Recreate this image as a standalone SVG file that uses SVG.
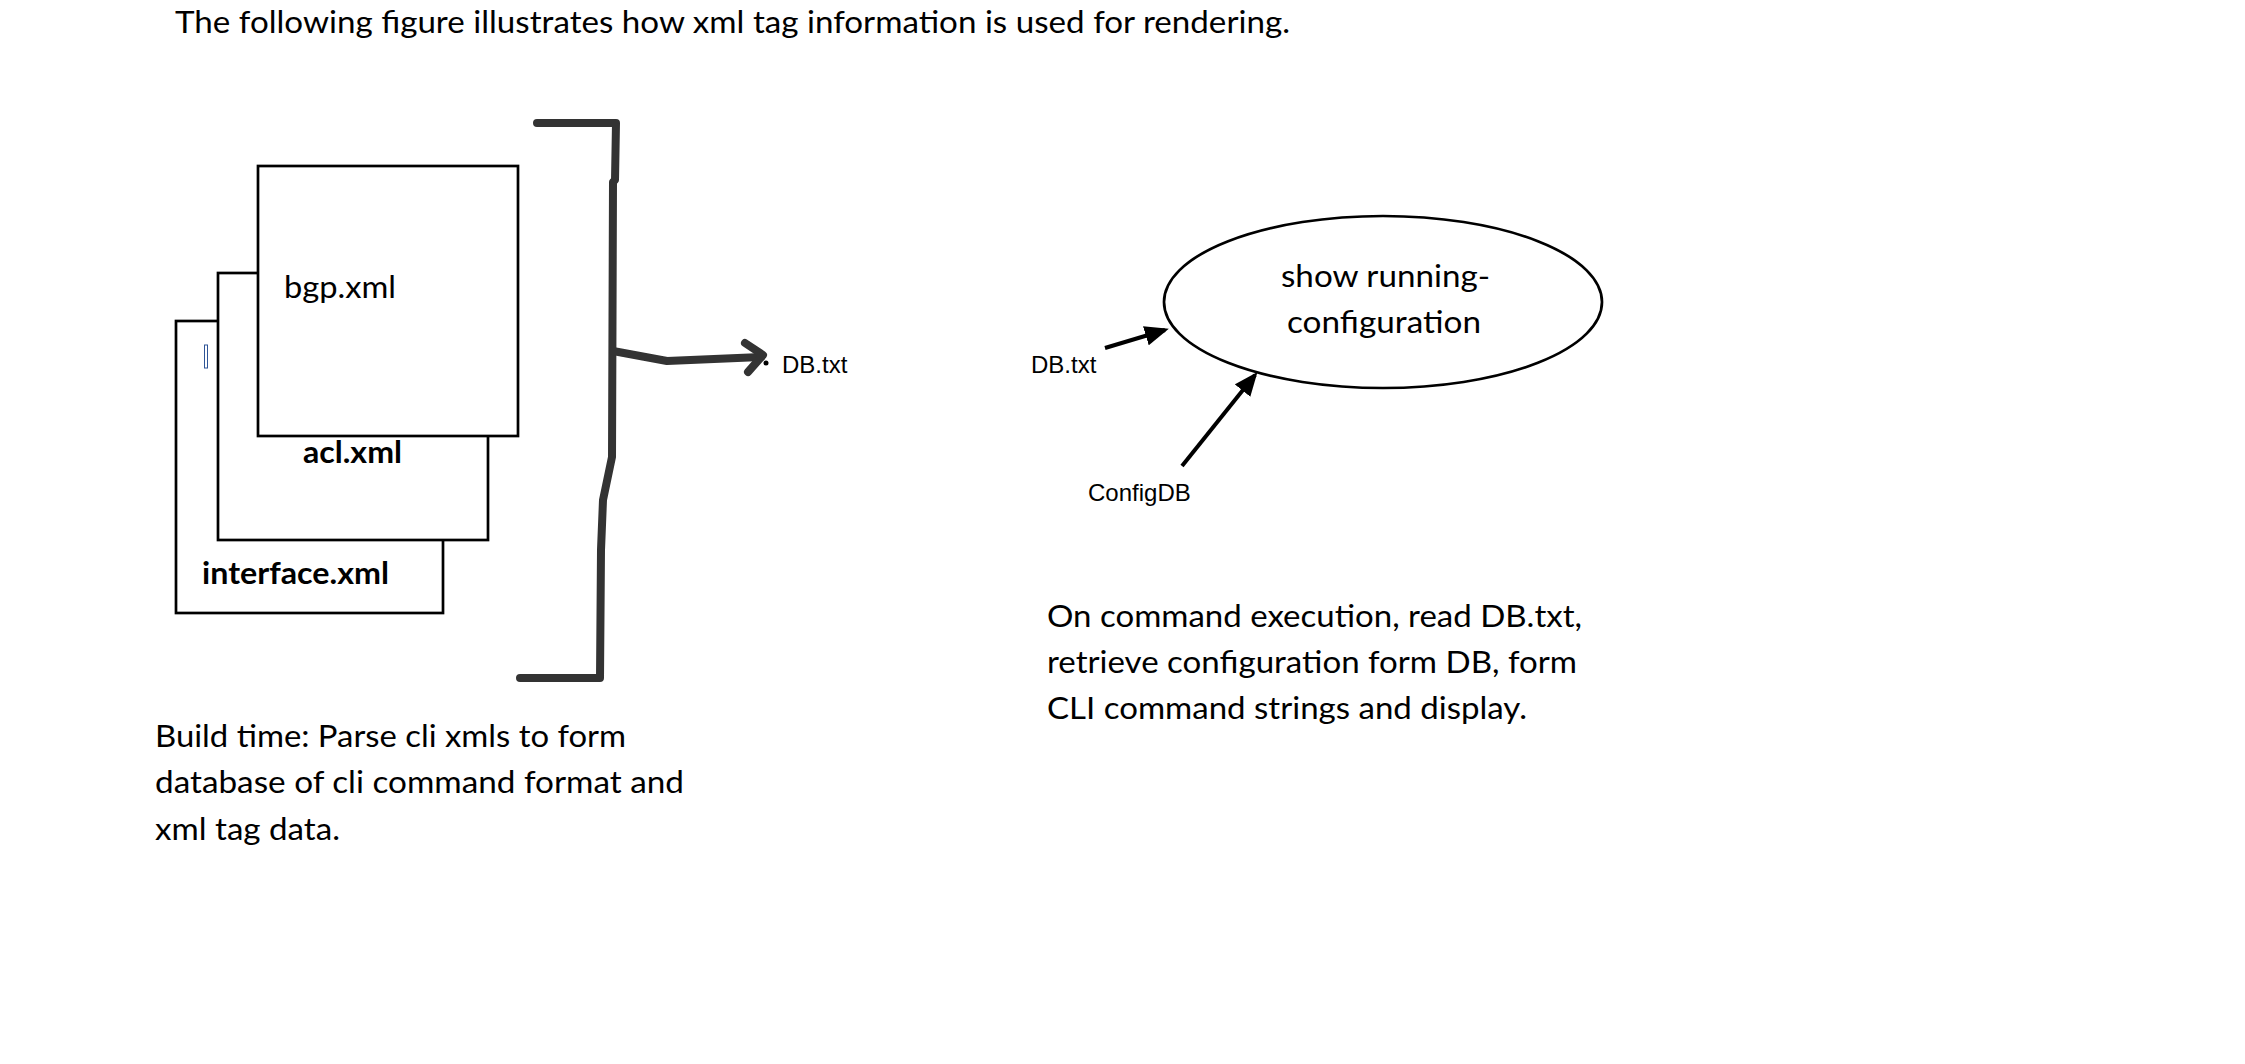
<svg xmlns="http://www.w3.org/2000/svg" width="2245" height="1064" viewBox="0 0 2245 1064">
<defs>
<style>
.t{font-family:Lato,"Open Sans","Liberation Sans",sans-serif;font-size:31px;fill:#000}
.b{font-weight:bold}
.a{font-family:"Liberation Sans",Arial,sans-serif;font-size:24px;fill:#000}
.doc{fill:#fff;stroke:#000;stroke-width:2.7}
.thick{fill:none;stroke:#333;stroke-width:8;stroke-linecap:round;stroke-linejoin:round}
.thin{fill:none;stroke:#000;stroke-width:4}
</style>
<marker id="ah" markerWidth="6" markerHeight="5" refX="5" refY="2.5" orient="auto" markerUnits="strokeWidth">
<path d="M0,0 L6,2.5 L0,5 z" fill="#000"/>
</marker>
</defs>
<rect width="2245" height="1064" fill="#fff"/>
<text class="t" x="175" y="33" textLength="1115" lengthAdjust="spacingAndGlyphs">The following figure illustrates how xml tag information is used for rendering.</text>
<g id="interface">
<rect class="doc" x="176" y="321" width="267" height="292"/>
<rect x="204.5" y="345" width="3" height="23" fill="none" stroke="#2F5597" stroke-width="1"/>
<text class="t b" x="202" y="584" textLength="187" lengthAdjust="spacingAndGlyphs">interface.xml</text>
</g>
<g id="acl">
<rect class="doc" x="218" y="273" width="270" height="267"/>
<text class="t b" x="303" y="463" textLength="99" lengthAdjust="spacingAndGlyphs">acl.xml</text>
</g>
<g id="bgp">
<rect class="doc" x="258" y="166" width="260" height="270"/>
<text class="t" x="284" y="298" textLength="112" lengthAdjust="spacingAndGlyphs">bgp.xml</text>
</g>
<g id="bracket">
<path class="thick" d="M537,123 L616,123 L615,180 L613,182 L612,457 L603,500 L601,550 L600,678 L520,678"/>
</g>
<g id="dbtxt1">
<text class="a" x="782" y="373">DB.txt</text>
</g>
<g id="showrun">
<ellipse cx="1383" cy="302" rx="219" ry="86" fill="#fff" stroke="#000" stroke-width="2.7"/>
<text class="t" x="1281" y="287" textLength="209" lengthAdjust="spacingAndGlyphs">show running-</text>
<text class="t" x="1287" y="333" textLength="194" lengthAdjust="spacingAndGlyphs">configuration</text>
</g>
<g id="dbtxt2">
<text class="a" x="1031" y="373">DB.txt</text>
</g>
<g id="configdb">
<text class="a" x="1088" y="501">ConfigDB</text>
</g>
<g id="connectors">
<path class="thick" d="M613,351 L667,361 L761,357"/>
<path class="thick" d="M745,343 L763,355 L748,372"/>
<circle cx="766" cy="363" r="2.5" fill="#000"/>
<line class="thin" x1="1105" y1="348" x2="1165" y2="330" marker-end="url(#ah)"/>
<line class="thin" x1="1182" y1="466" x2="1255" y2="375" marker-end="url(#ah)"/>
</g>
<g id="notes">
<text class="t" x="155" y="747" textLength="471" lengthAdjust="spacingAndGlyphs">Build time: Parse cli xmls to form</text>
<text class="t" x="155" y="793" textLength="529" lengthAdjust="spacingAndGlyphs">database of cli command format and</text>
<text class="t" x="155" y="840" textLength="185" lengthAdjust="spacingAndGlyphs">xml tag data.</text>
<text class="t" x="1047" y="627" textLength="535" lengthAdjust="spacingAndGlyphs">On command execution, read DB.txt,</text>
<text class="t" x="1047" y="673" textLength="530" lengthAdjust="spacingAndGlyphs">retrieve configuration form DB, form</text>
<text class="t" x="1047" y="719" textLength="480" lengthAdjust="spacingAndGlyphs">CLI command strings and display.</text>
</g>
</svg>
